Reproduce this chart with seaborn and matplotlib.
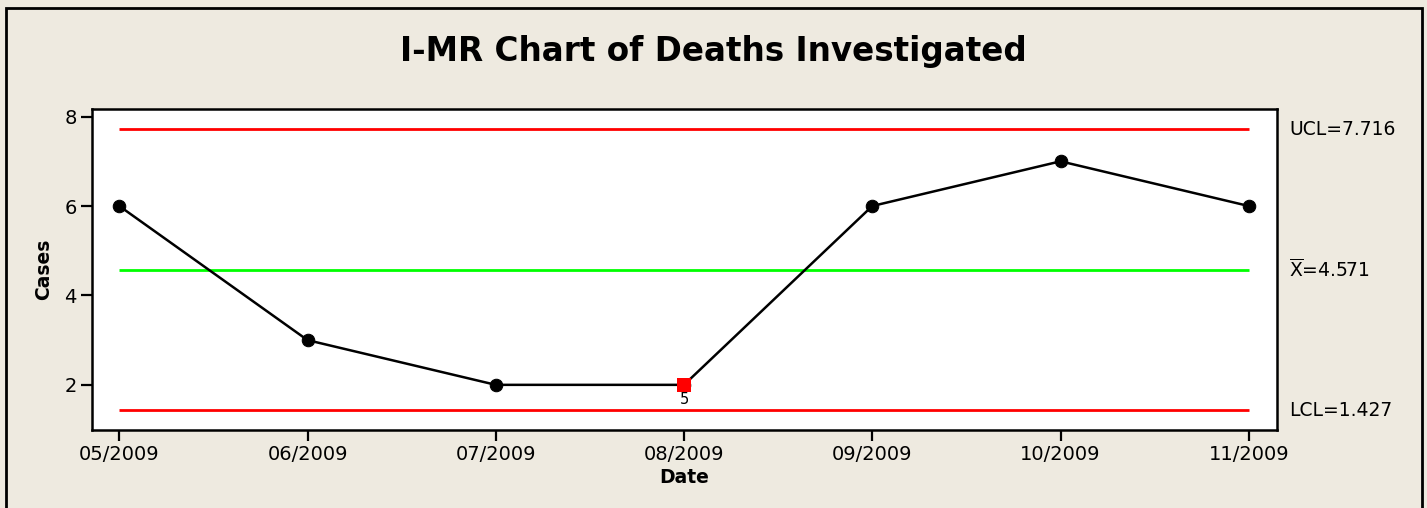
import matplotlib
matplotlib.use("Agg")
import matplotlib.pyplot as plt
import seaborn as sns
import pandas as pd
from matplotlib.patches import Rectangle

# data
dates = ["05/2009", "06/2009", "07/2009", "08/2009", "09/2009", "10/2009", "11/2009"]
cases = [6, 3, 2, 2, 6, 7, 6]
ucl, center, lcl = 7.716, 4.571, 1.427
flagged = [3]          # index of out-of-rule point
flag_tests = ["5"]     # test number shown under it

bg = "#EEEAE0"
sns.set_theme(style="white")
plt.rcParams["font.family"] = ["DejaVu Sans"]
plt.rcParams["text.color"] = "black"
plt.rcParams["axes.labelcolor"] = "black"

df = pd.DataFrame({"idx": range(len(dates)), "cases": cases})

fig = plt.figure(figsize=(14.27, 5.08), dpi=100, facecolor=bg)
ax = fig.add_axes([92 / 1427, 1 - 430 / 508, (1277 - 92) / 1427, (430 - 109) / 508])
ax.set_facecolor("white")

# control limits span first to last point
x0, x1 = 0, len(dates) - 1
ax.hlines([ucl, lcl], x0, x1, color="#FF0000", lw=2)
ax.hlines(center, x0, x1, color="#00FF00", lw=2)

sns.lineplot(data=df, x="idx", y="cases", ax=ax, color="black", lw=1.8,
             marker="o", markersize=9, markeredgecolor="black")
fl = df.iloc[flagged]
sns.scatterplot(data=fl, x="idx", y="cases", ax=ax, marker="s", s=100,
                color="#FF0000", edgecolor="none", zorder=5)
for i, t in zip(flagged, flag_tests):
    ax.text(i, cases[i] - 0.15, t, ha="center", va="top", fontsize=10.5)

ax.set_xlim(-0.145, 6.15)
ax.set_ylim(0.99, 8.17)
ax.set_xticks(range(len(dates)))
ax.set_xticklabels(dates)
ax.set_yticks([2, 4, 6, 8])
ax.tick_params(axis="both", direction="out", length=8, width=1.6, labelsize=14,
               bottom=True, left=True, colors="black", pad=3)
for s in ax.spines.values():
    s.set_color("black")
    s.set_linewidth(1.8)

ax.set_xlabel("Date", fontsize=13.5, fontweight="bold", labelpad=3)
ax.set_ylabel("Cases", fontsize=13.5, fontweight="bold", labelpad=8)

# limit labels on the right
tr = ax.get_yaxis_transform()
lx = 1 + 12 / 1185
ax.text(lx, ucl, "UCL=7.716", transform=tr, va="center", fontsize=13.5)
ax.text(lx, center, r"$\overline{\mathrm{X}}$=4.571", transform=tr, va="center", fontsize=13.5)
ax.text(lx, lcl, "LCL=1.427", transform=tr, va="center", fontsize=13.5)

fig.suptitle("I-MR Chart of Deaths Investigated", x=0.5, y=1 - 52 / 508, va="center",
             fontsize=23.5, fontweight="bold", color="black")

# outer frame
fig.patches.append(Rectangle((6 / 1427, -0.05), (1422 - 6) / 1427, 1.05 - 8 / 508,
                             transform=fig.transFigure, fill=False,
                             edgecolor="black", lw=2))

fig.savefig("out.png", dpi=100, facecolor=bg)
